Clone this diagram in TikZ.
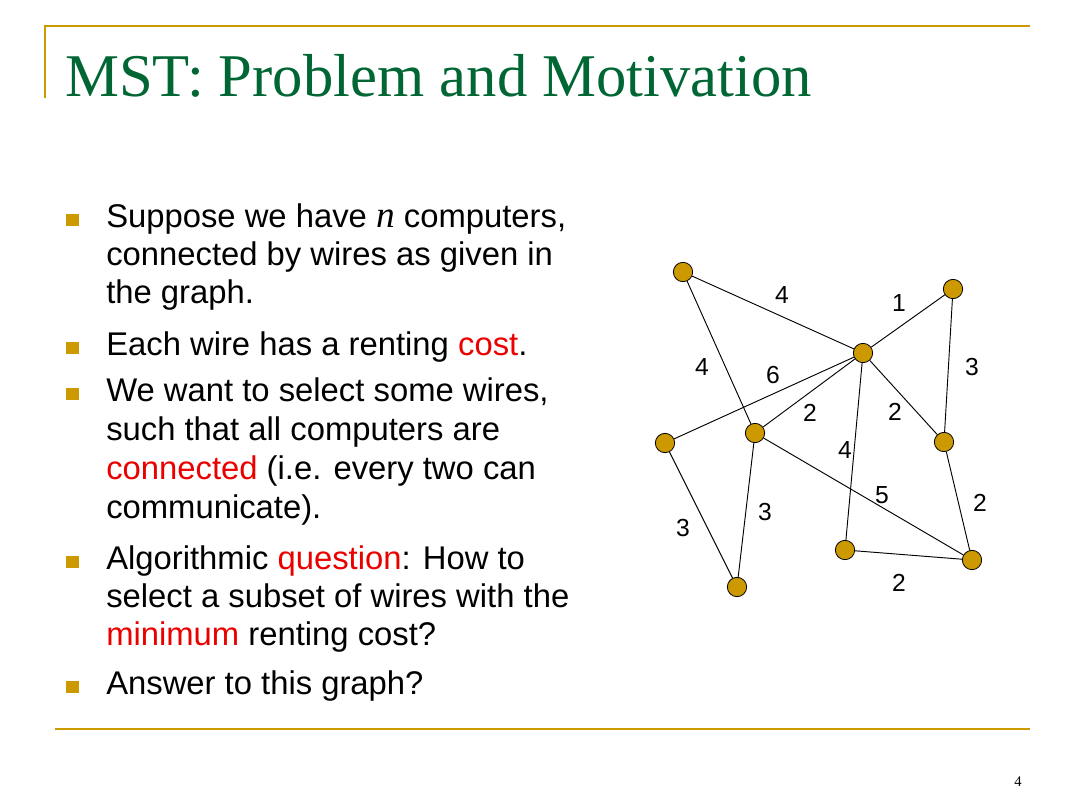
\documentclass[tikz,border=0pt]{standalone}
\usepackage{fontspec}
\setmainfont{Liberation Sans}
\newfontfamily\titlefont{Liberation Serif}
\definecolor{gold}{RGB}{204,153,0}
\definecolor{titlegreen}{RGB}{0,102,51}
\definecolor{hl}{RGB}{235,0,0}
\begin{document}
\begin{tikzpicture}[x=0.75pt,y=-0.75pt,
  txt/.style={anchor=base west, inner sep=0pt, font=\fontsize{24.6}{28}\selectfont},
  bul/.style={fill=gold},
  vtx/.style={circle, draw=black, line width=0.6pt, fill=gold, minimum size=14.5pt, inner sep=0pt},
  wire/.style={draw=black, line width=0.7pt},
  wt/.style={font=\fontsize{18.5}{20}\selectfont, inner sep=0pt},
  rule/.style={draw=gold, line width=1.6pt}]
\useasboundingbox[fill=white] (0,0) rectangle (1080,810);
% frame rules
\coordinate (r1) at (45,98);
\coordinate (r2) at (45,26);
\coordinate (r3) at (1030,26);
\coordinate (b1) at (55,729);
\coordinate (b2) at (1030,729);
\draw[rule] (r1) -- (r2) -- (r3);
\draw[rule] (b1) -- (b2);
% title
\node[anchor=base west, inner sep=0pt, text=titlegreen, font=\titlefont\fontsize{45.5}{50}\selectfont] (title) at (65,96) {MST: Problem and Motivation};
% bullets
\foreach \b in {227,355,401,569,694}{
  \fill[bul] (66,\b-13.5) rectangle (79,\b-1.5);
}
\node[txt] (l1) at (106,227) {Suppose we have {\titlefont\itshape\fontsize{28}{30}\selectfont n} computers,};
\node[txt] (l2) at (106,265) {connected by wires as given in};
\node[txt] (l3) at (106,303) {the graph.};
\node[txt] (l4) at (106,355) {Each wire has a renting \textcolor{hl}{cost}.};
\node[txt] (l5) at (106,401) {We want to select some wires,};
\node[txt] (l6) at (106,440) {such that all computers are};
\node[txt] (l7) at (106,479) {\textcolor{hl}{connected} (i.e. every two can};
\node[txt] (l8) at (106,518) {communicate).};
\node[txt] (l9) at (106,569) {Algorithmic \textcolor{hl}{question}: How to};
\node[txt] (l10) at (106,607) {select a subset of wires with the};
\node[txt] (l11) at (106,645) {\textcolor{hl}{minimum} renting cost?};
\node[txt] (l12) at (106,694) {Answer to this graph?};
% graph
\node[vtx] (A) at (683,272) {};
\node[vtx] (B) at (953,289) {};
\node[vtx] (C) at (863,353) {};
\node[vtx] (D) at (665,443) {};
\node[vtx] (E) at (755,433) {};
\node[vtx] (F) at (944,442) {};
\node[vtx] (G) at (737,587) {};
\node[vtx] (H) at (845,550) {};
\node[vtx] (I) at (972,560) {};
\draw[wire] (A) -- (C);
\draw[wire] (A) -- (E);
\draw[wire] (B) -- (C);
\draw[wire] (B) -- (F);
\draw[wire] (C) -- (D);
\draw[wire] (C) -- (E);
\draw[wire] (C) -- (F);
\draw[wire] (C) -- (H);
\draw[wire] (E) -- (I);
\draw[wire] (F) -- (I);
\draw[wire] (D) -- (G);
\draw[wire] (E) -- (G);
\draw[wire] (H) -- (I);
\node[wt] (wAC) at (782,295) {4};
\node[wt] (wAE) at (702,367) {4};
\node[wt] (wBC) at (899,303) {1};
\node[wt] (wBF) at (972,367) {3};
\node[wt] (wCD) at (773,375) {6};
\node[wt] (wCE) at (810,413) {2};
\node[wt] (wCF) at (895,412) {2};
\node[wt] (wCH) at (845,450) {4};
\node[wt] (wEI) at (882,495) {5};
\node[wt] (wFI) at (980,503) {2};
\node[wt] (wDG) at (683,528) {3};
\node[wt] (wEG) at (765,512) {3};
\node[wt] (wHI) at (899,583) {2};
% page number
\node[anchor=base, inner sep=0pt, font=\titlefont\fontsize{11}{12}\selectfont] (pg) at (1018,786) {4};
\end{tikzpicture}
\end{document}
